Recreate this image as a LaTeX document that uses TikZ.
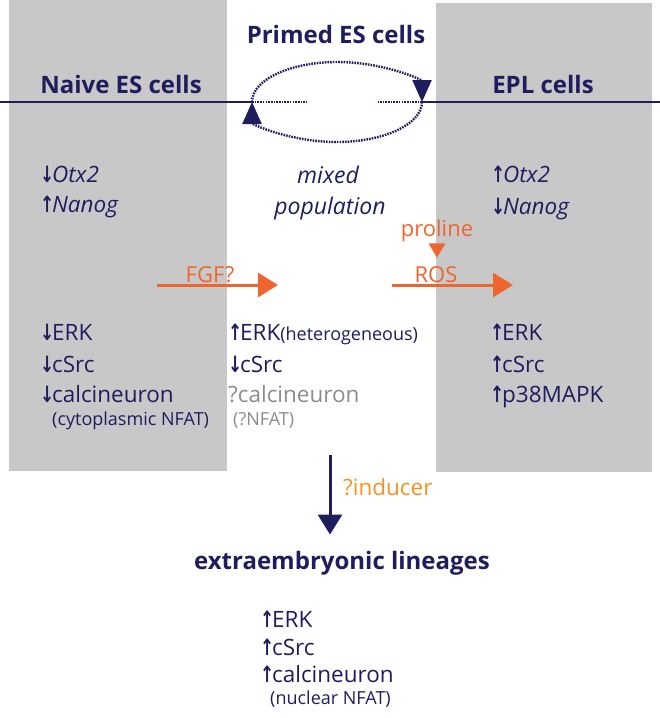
\documentclass[tikz,border=0pt]{standalone}
\usepackage{fontspec}
\setmainfont{Open Sans}
\newfontfamily\arrowfont{DejaVu Sans}
\usetikzlibrary{arrows.meta}

\definecolor{navy}{RGB}{31,29,94}
\definecolor{signal}{RGB}{239,101,48}
\definecolor{inducer}{RGB}{246,146,30}
\definecolor{cellgray}{RGB}{200,200,200}
\definecolor{unknown}{RGB}{140,140,140}

\newcommand{\upreg}{\scalebox{0.75}[1]{\arrowfont\bfseries ↑}\kern-0.1em}
\newcommand{\downreg}{\scalebox{0.75}[1]{\arrowfont\bfseries ↓}\kern-0.1em}

\tikzset{
  heading/.style={text=navy, font=\fontsize{24}{28}\selectfont\bfseries, inner sep=0pt, anchor=base},
  gene/.style={text=navy, font=\fontsize{22.5}{26}\selectfont, inner sep=0pt, anchor=base west},
  genenote/.style={text=navy, font=\fontsize{18}{21}\selectfont, inner sep=0pt, anchor=base west},
  siglabel/.style={text=signal, font=\fontsize{22}{26}\selectfont, inner sep=0pt, anchor=base},
  signal arrow/.style={signal, line width=3pt, -{Triangle[length=20pt,width=24pt]}},
  dots/.style={navy, line width=2.4pt, dash pattern=on 1.6pt off 1.1pt},
}

\begin{document}
\begin{tikzpicture}[x=1pt,y=1pt]
\useasboundingbox (0,0) rectangle (660,-718);
% cell state panels
\fill[cellgray] (9,0) rectangle (227,-471);
\fill[cellgray] (436,-3) rectangle (652,-472);

% titles
\node[heading] (naive) at (121,-93) {Naive ES cells};
\node[heading] (primed) at (336,-43) {Primed ES cells};
\node[heading] (epl) at (543,-93) {EPL cells};

% line through the three states
\coordinate (lineL) at (0,-102);
\coordinate (lineR) at (660,-102);
\coordinate (ovalL) at (252,-102);
\coordinate (ovalR) at (422,-102);
\draw[navy, line width=2.5pt] (lineL) -- (ovalL);
\draw[navy, line width=2.5pt] (ovalR) -- (lineR);
\draw[dots] (ovalL) -- +(55,0);
\draw[dots] (ovalR) -- +(-44,0);

% interconversion loop
\draw[dots, -{Triangle[length=22pt,width=19pt]}] (ovalL) arc[start angle=180, end angle=0, x radius=85, y radius=40];
\draw[dots, -{Triangle[length=22pt,width=19pt]}] (ovalR) arc[start angle=0, end angle=-180, x radius=85, y radius=40];
\node[text=navy, font=\fontsize{23}{27}\selectfont\itshape, inner sep=0pt, anchor=base] (mixed) at (328,-183) {mixed};
\node[text=navy, font=\fontsize{23}{27}\selectfont\itshape, inner sep=0pt, anchor=base] (population) at (330,-214) {population};

% transcription factors
\node[gene] (naiveotx) at (40,-182) {\downreg\textit{Otx2}};
\node[gene] (naivenanog) at (40,-212) {\upreg\textit{Nanog}};
\node[gene] (eplotx) at (491,-182) {\upreg\textit{Otx2}};
\node[gene] (eplnanog) at (491,-214) {\downreg\textit{Nanog}};

% signals between the states
\coordinate (fgfstart) at (157,-285);
\coordinate (fgfend) at (278,-285);
\draw[signal arrow] (fgfstart) -- (fgfend);
\node[siglabel] (fgf) at (210,-282) {FGF?};
\coordinate (rosstart) at (392,-285);
\coordinate (rosend) at (513,-285);
\draw[signal arrow] (rosstart) -- (rosend);
\node[siglabel] (ros) at (436,-282) {ROS};
\node[siglabel] (proline) at (437,-236) {proline};
\fill[signal] ([xshift=-8.5pt,yshift=-2pt]proline.south) -- ++(17,0) -- ++(-8.5,-14) -- cycle;

% kinases, naive
\node[gene] (naiveerk) at (40,-340) {\downreg ERK};
\node[gene] (naivesrc) at (40,-372) {\downreg cSrc};
\node[gene] (naivecal) at (40,-402) {\downreg calcineuron};
\node[genenote] (naivenfat) at (52,-425) {(cytoplasmic NFAT)};
% kinases, primed
\node[gene] (primederk) at (228,-340) {\upreg ERK{\fontsize{18}{21}\selectfont(heterogeneous)}};
\node[gene] (primedsrc) at (228,-372) {\downreg cSrc};
\node[gene, text=unknown] (primedcal) at (228,-402) {?calcineuron};
\node[genenote, text=unknown] (primednfat) at (233,-425) {(?NFAT)};
% kinases, EPL
\node[gene] (eplerk) at (490,-340) {\upreg ERK};
\node[gene] (eplsrc) at (490,-372) {\upreg cSrc};
\node[gene] (eplp38) at (490,-402) {\upreg p38MAPK};

% differentiation
\node[heading] (extra) at (342,-569) {extraembryonic lineages};
\coordinate (inducertop) at (330,-455);
\draw[navy, line width=3pt, -{Triangle[length=20pt,width=24pt]}, shorten >=16pt] (inducertop) -- (inducertop |- extra.north);
\node[gene, text=inducer] (inducer) at (343,-495) {?inducer};
\node[gene] (extraerk) at (260,-627) {\upreg ERK};
\node[gene] (extrasrc) at (260,-655) {\upreg cSrc};
\node[gene] (extracal) at (260,-682) {\upreg calcineuron};
\node[genenote] (extranfat) at (270,-704) {(nuclear NFAT)};
\end{tikzpicture}
\end{document}
